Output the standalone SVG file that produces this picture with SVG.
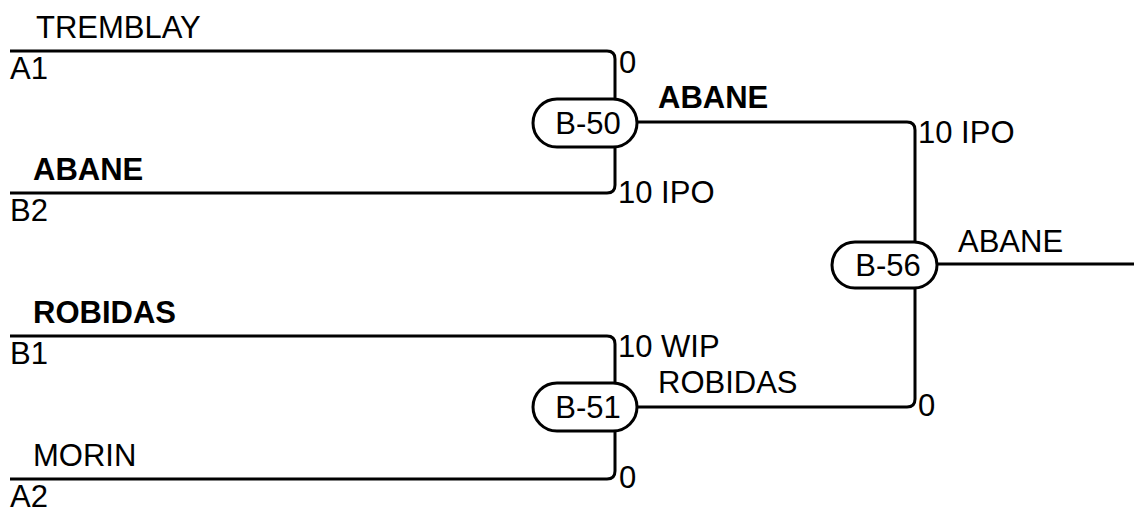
<svg xmlns="http://www.w3.org/2000/svg" width="1134" height="508" viewBox="0 0 1134 508">
<style>
text{font-family:"Liberation Sans",Arial,sans-serif;font-size:31px;fill:#000}
.b{font-weight:bold}
.m{text-anchor:middle}
.c{fill:none;stroke:#000;stroke-width:3}
.n{fill:#fff;stroke:#000;stroke-width:3}
</style>
<rect width="1134" height="508" fill="#fff"/>
<g id="connectors">
<path class="c" d="M10,51 H607 Q615,51 615,59 V99"/>
<path class="c" d="M10,193 H607 Q615,193 615,185 V147"/>
<path class="c" d="M637,122 H907 Q915,122 915,130 V242"/>
<path class="c" d="M10,336 H607 Q615,336 615,344 V383"/>
<path class="c" d="M10,479 H607 Q615,479 615,471 V431"/>
<path class="c" d="M637,407 H907 Q915,407 915,399 V288"/>
<path class="c" d="M937,264 H1134"/>
</g>
<g id="labels">
<text x="36" y="38">TREMBLAY</text>
<text x="10" y="79">A1</text>
<text x="619" y="73">0</text>
<text class="b" x="33" y="180">ABANE</text>
<text x="10" y="221">B2</text>
<text x="618" y="203">10 IPO</text>
<text class="b" x="658" y="108">ABANE</text>
<text x="918" y="143">10 IPO</text>
<text x="958" y="252">ABANE</text>
<text class="b" x="33" y="323">ROBIDAS</text>
<text x="10" y="364">B1</text>
<text x="618" y="357">10 WIP</text>
<text x="658" y="393">ROBIDAS</text>
<text x="918" y="416">0</text>
<text x="33" y="466">MORIN</text>
<text x="10" y="507">A2</text>
<text x="619" y="488">0</text>
</g>
<g id="B-50"><rect class="n" x="533" y="99" width="104" height="48" rx="24"/><text class="m" x="588" y="134">B-50</text></g>
<g id="B-51"><rect class="n" x="533" y="383" width="104" height="48" rx="24"/><text class="m" x="588" y="418">B-51</text></g>
<g id="B-56"><rect class="n" x="832" y="242" width="105" height="46" rx="23"/><text class="m" x="888" y="276">B-56</text></g>
</svg>
